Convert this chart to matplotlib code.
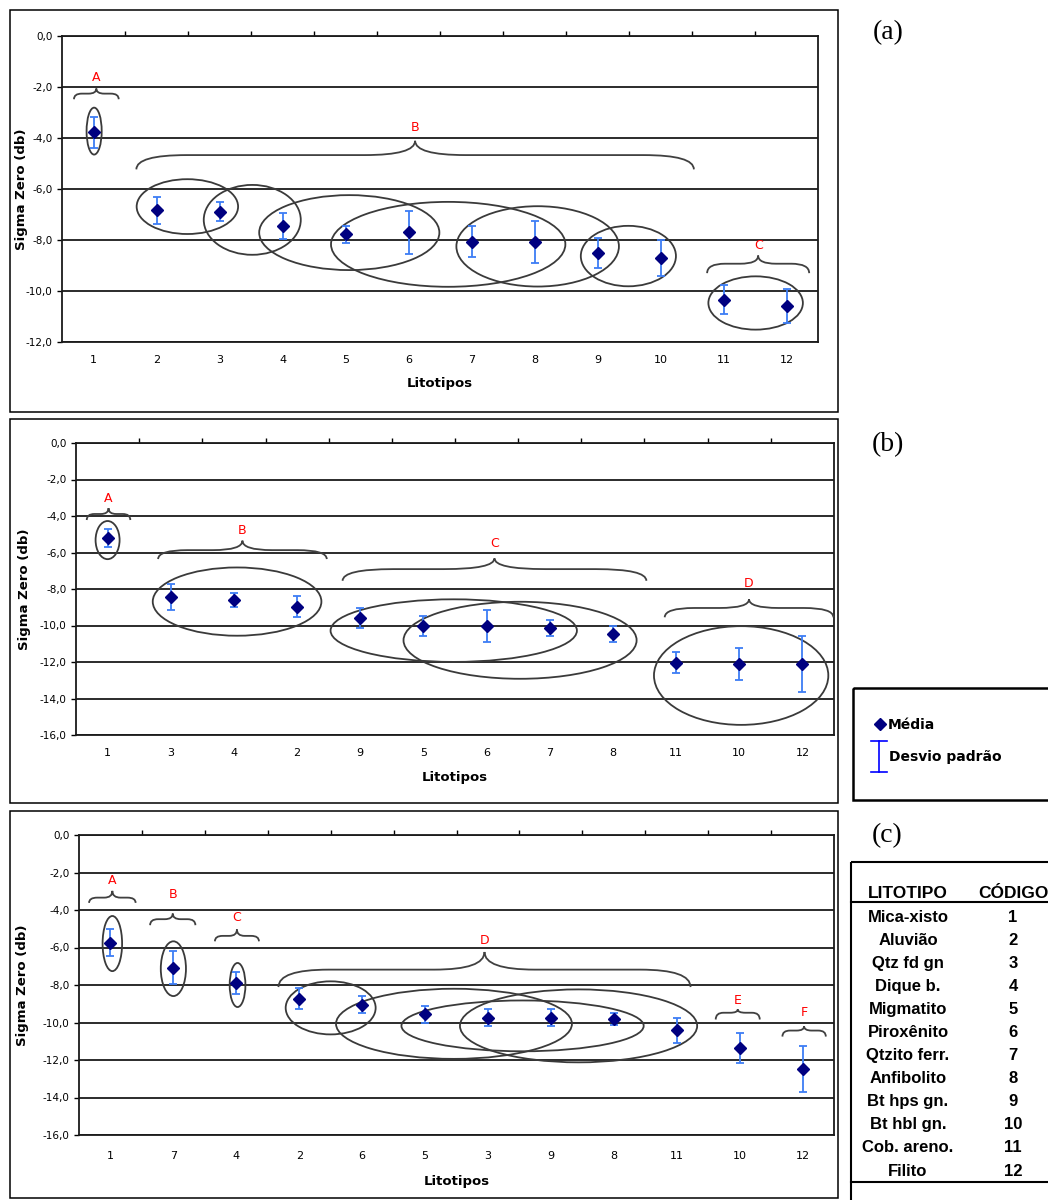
import numpy as np
import matplotlib
matplotlib.use("Agg")
import matplotlib.pyplot as plt
from matplotlib.patches import Ellipse, Rectangle, PathPatch
from matplotlib.path import Path

###########################################################################################################
# Dados

# (a) litotipos na ordem do código
cats_a = ['1', '2', '3', '4', '5', '6', '7', '8', '9', '10', '11', '12']
media_a = [-3.78, -6.83, -6.89, -7.45, -7.78, -7.70, -8.07, -8.07, -8.50, -8.71, -10.34, -10.58]
desvio_a = [0.60, 0.53, 0.37, 0.50, 0.34, 0.85, 0.60, 0.82, 0.58, 0.71, 0.57, 0.66]

# (b)
cats_b = ['1', '3', '4', '2', '9', '5', '6', '7', '8', '11', '10', '12']
media_b = [-5.19, -8.43, -8.61, -8.96, -9.59, -10.03, -10.03, -10.12, -10.48, -12.04, -12.11, -12.11]
desvio_b = [0.49, 0.73, 0.40, 0.57, 0.57, 0.53, 0.89, 0.43, 0.44, 0.57, 0.85, 1.54]

# (c)
cats_c = ['1', '7', '4', '2', '6', '5', '3', '9', '8', '11', '10', '12']
media_c = [-5.74, -7.08, -7.91, -8.73, -9.04, -9.57, -9.75, -9.75, -9.82, -10.41, -11.37, -12.48]
desvio_c = [0.71, 0.89, 0.58, 0.55, 0.47, 0.45, 0.46, 0.46, 0.32, 0.66, 0.79, 1.24]

# chaves dos grupos: (rótulo, x ini, x fim, y pontas, y meio, y bico, y rótulo)
chaves_a = [('A', 0.69, 1.40, -2.48, -2.26, -2.06, -1.61),
            ('B', 1.68, 10.53, -5.23, -4.67, -4.11, -3.59),
            ('C', 10.74, 12.36, -9.30, -8.93, -8.61, -8.22)]
chaves_b = [('A', 0.67, 1.36, -4.22, -3.89, -3.57, -3.02),
            ('B', 1.80, 4.47, -6.36, -5.87, -5.35, -4.82),
            ('C', 4.72, 9.53, -7.55, -6.91, -6.32, -5.50),
            ('D', 9.82, 12.49, -9.55, -9.04, -8.56, -7.70)]
chaves_c = [('A', 0.66, 1.40, -3.62, -3.34, -2.98, -2.44),
            ('B', 1.63, 2.35, -4.81, -4.49, -4.19, -3.17),
            ('C', 2.66, 3.36, -5.67, -5.38, -5.04, -4.40),
            ('D', 3.67, 10.22, -8.11, -7.18, -6.24, -5.65),
            ('E', 10.62, 11.32, -9.84, -9.48, -9.30, -8.82),
            ('F', 11.68, 12.37, -10.75, -10.43, -10.20, -9.45)]

# elipses: (x centro, y centro, largura, altura)
elipses_a = [(1.01, -3.73, 0.24, 1.84), (2.49, -6.69, 1.61, 2.15), (3.52, -7.21, 1.54, 2.74),
             (5.06, -7.71, 2.86, 2.94), (6.63, -8.17, 3.72, 3.33), (8.05, -8.25, 2.58, 3.15),
             (9.49, -8.63, 1.51, 2.37), (11.51, -10.47, 1.50, 2.09)]
elipses_b = [(1.00, -5.32, 0.38, 2.09), (3.05, -8.69, 2.67, 3.74), (6.48, -10.28, 3.90, 3.43),
             (7.53, -10.81, 3.69, 4.22), (11.03, -12.74, 2.76, 5.41)]
elipses_c = [(1.03, -5.79, 0.31, 2.94), (2.00, -7.13, 0.40, 2.92), (3.02, -8.00, 0.25, 2.35),
             (4.50, -9.22, 1.43, 2.83), (6.46, -10.07, 3.75, 3.74), (7.55, -10.18, 3.85, 2.71),
             (8.44, -10.18, 3.77, 3.89)]

# tabela de códigos
litotipos = ['Mica-xisto', 'Aluvião', 'Qtz fd gn', 'Dique b.', 'Migmatito', 'Piroxênito',
             'Qtzito ferr.', 'Anfibolito', 'Bt hps gn.', 'Bt hbl gn.', 'Cob. areno.', 'Filito']
codigos = ['1', '2', '3', '4', '5', '6', '7', '8', '9', '10', '11', '12']
#####################################################################################################

W, H = 1048, 1200
NARROW = ['Liberation Sans Narrow', 'DejaVu Sans']
AZUL_ESCURO = '#000080'
AZUL_ERRO = '#3d7df5'
CINZA = '#3a3a3a'

fig = plt.figure(figsize=(W / 100, H / 100), dpi=100)

# eixo auxiliar em pixels para molduras, legenda e tabela
ov = fig.add_axes([0, 0, 1, 1])
ov.set_xlim(0, W)
ov.set_ylim(H, 0)
ov.axis('off')


def px_rect(left, top, right, bottom):
    return [left / W, 1 - bottom / H, (right - left) / W, (bottom - top) / H]


def desenha_chave(ax, x0, x1, y_end, y_flat, y_tip):
    xm = (x0 + x1) / 2
    r = min(0.8, 0.35 * (x1 - x0) / 2)
    verts = [(x0, y_end), (x0, y_flat), (x0 + r, y_flat),
             (xm - r, y_flat), (xm, y_flat), (xm, y_tip),
             (xm, y_flat), (xm + r, y_flat),
             (x1 - r, y_flat), (x1, y_flat), (x1, y_end)]
    codes = [Path.MOVETO, Path.CURVE3, Path.CURVE3, Path.LINETO, Path.CURVE3, Path.CURVE3,
             Path.CURVE3, Path.CURVE3, Path.LINETO, Path.CURVE3, Path.CURVE3]
    ax.add_patch(PathPatch(Path(verts, codes), fill=False, edgecolor='#404040', lw=1.3,
                           clip_on=False, zorder=4))


def painel(rect, cats, media, desvio, ymin, chaves, elipses, xlab_off, ylab_off, xpad):
    ax = fig.add_axes(px_rect(*rect))
    x = np.arange(1, len(cats) + 1)
    ax.set_xlim(0.5, len(cats) + 0.5)
    ax.set_ylim(ymin, 0)

    # grade horizontal estilo Excel
    yt = np.arange(ymin, 0.1, 2)
    ax.set_yticks(yt)
    ax.set_yticklabels([f"{v:.1f}".replace('.', ',') for v in yt])
    ax.yaxis.grid(True, color='#1a1a1a', lw=1.3)
    ax.set_axisbelow(True)
    for s in ['top', 'bottom', 'left', 'right']:
        ax.spines[s].set_color('#1a1a1a')
        ax.spines[s].set_linewidth(1.3)
    ax.tick_params(axis='y', length=3.6, width=1, pad=3.2, labelsize=7.5)

    ax.set_xticks(x)
    ax.set_xticklabels(cats)
    ax.set_xticks(np.arange(1.5, len(cats) + 0.5), minor=True)
    ax.tick_params(axis='x', which='major', length=0, pad=xpad, labelsize=8)
    ax.tick_params(axis='x', which='minor', bottom=False, top=True, length=3.6, width=1,
                   direction='out')
    for t in ax.get_xticklabels() + ax.get_yticklabels():
        t.set_family(NARROW)

    for cx, cy, w, h in elipses:
        ax.add_patch(Ellipse((cx, cy), w, h, fill=False, edgecolor=CINZA, lw=1.3,
                             clip_on=False, zorder=3))

    for lab, x0, x1, ye, yf, ytip, ylab in chaves:
        desenha_chave(ax, x0, x1, ye, yf, ytip)
        ax.text((x0 + x1) / 2, ylab, lab, color='#ff0000', fontsize=9, ha='center',
                va='center', family=NARROW, zorder=5)

    ax.errorbar(x, media, yerr=desvio, fmt='none', ecolor=AZUL_ERRO, elinewidth=1.3,
                capsize=3, capthick=1.3, zorder=5)
    ax.plot(x, media, 'D', color=AZUL_ESCURO, ms=6.5, zorder=6)

    ax.set_xlabel('Litotipos', fontsize=9.5, fontweight='bold', va='center')
    ax.set_ylabel('Sigma Zero (db)', fontsize=9.5, fontweight='bold', va='center')
    ax.xaxis.set_label_coords(0.5, -xlab_off / (rect[3] - rect[1]))
    ax.yaxis.set_label_coords(-ylab_off / (rect[2] - rect[0]), 0.5)
    return ax


ax_a = painel((62, 36, 818, 342), cats_a, media_a, desvio_a, -12, chaves_a, elipses_a, 42, 40, 9.4)
ax_b = painel((76, 443, 834, 735), cats_b, media_b, desvio_b, -16, chaves_b, elipses_b, 43, 51, 9.4)
ax_c = painel((79, 835, 834, 1135), cats_c, media_c, desvio_c, -16, chaves_c, elipses_c, 46, 56, 11.5)

# molduras dos painéis
for top, bottom in [(10, 412), (419, 803), (811, 1198)]:
    ov.add_patch(Rectangle((10, top), 828, bottom - top, fill=False, edgecolor='black', lw=1.1))

# rótulos (a), (b), (c)
for lab, xx, yy in [('(a)', 888, 33), ('(b)', 888, 445), ('(c)', 887, 836)]:
    ov.text(xx, yy, lab, fontsize=20, family='Liberation Serif', ha='center', va='center')

# legenda
ov.add_patch(Rectangle((853, 688), 200, 112, fill=False, edgecolor='black', lw=1.8))
ov.plot([880], [724], 'D', color=AZUL_ESCURO, ms=6)
ov.text(888, 725, 'Média', fontsize=10, fontweight='bold', ha='left', va='center')
ov.plot([879, 879], [741, 772], color='#0000ff', lw=1.2)
ov.plot([871, 887], [741, 741], color='#0000ff', lw=1.2)
ov.plot([871, 887], [772, 772], color='#0000ff', lw=1.2)
ov.text(889, 757, 'Desvio padrão', fontsize=10, fontweight='bold', ha='left', va='center')

# tabela de códigos
ov.add_patch(Rectangle((851, 862), 210, 345, fill=False, edgecolor='black', lw=1.5))
ov.text(908, 894, 'LITOTIPO', fontsize=12.5, fontweight='bold', family='Liberation Sans',
        ha='center', va='center')
ov.text(1013, 894, 'CÓDIGO', fontsize=12.5, fontweight='bold', family='Liberation Sans',
        ha='center', va='center')
ov.plot([851, 1048], [902, 902], color='black', lw=1.5)
ov.plot([851, 1048], [1182, 1182], color='black', lw=1.5)
ys = 917 + 23.1 * np.arange(len(litotipos))
for nome, cod, yy in zip(litotipos, codigos, ys):
    ov.text(908, yy, nome, fontsize=12, fontweight='bold', family='Liberation Sans',
            ha='center', va='center')
    ov.text(1013, yy, cod, fontsize=12, fontweight='bold', family='Liberation Sans',
            ha='center', va='center')

fig.savefig('out.png', dpi=100)
